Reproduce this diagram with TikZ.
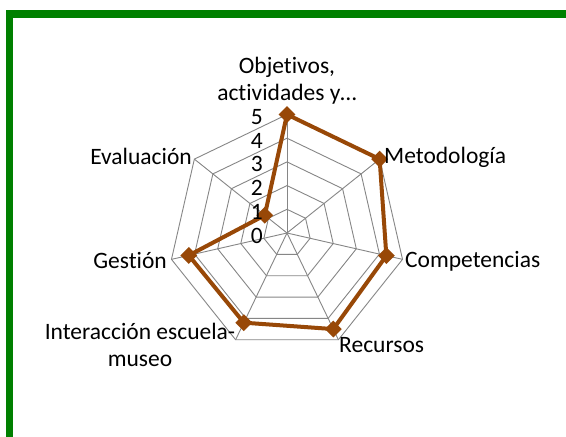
\documentclass[tikz,border=0pt]{standalone}
\usepackage{fontspec}
\setmainfont{Carlito}[Ligatures={NoCommon}]
\usepackage{tikz}
\usetikzlibrary{shapes.geometric}
\definecolor{framegreen}{RGB}{0,128,0}
\definecolor{gridgray}{RGB}{134,134,134}
\definecolor{seriesbrown}{RGB}{152,72,7}

\begin{document}
\begin{tikzpicture}[x=1pt, y=1pt,
  gridline/.style={draw=gridgray, line width=0.9pt},
  serie/.style={draw=seriesbrown, line width=4pt, line join=miter},
  punto/.style={diamond, fill=seriesbrown, inner sep=0pt, minimum size=17pt},
  etiqueta/.style={inner sep=0pt, font=\fontsize{23.5}{27}\selectfont},
  escala/.style={etiqueta, anchor=east}]
\useasboundingbox (0,0) rectangle (566,437);
\fill[white] (0,0) rectangle (566,437);

% Frame
\draw[framegreen, line width=7.5pt] (9.5,-10) -- (9.5,423) -- (590,423);

\begin{scope}[shift={(287,204)}, x=23.7pt, y=23.7pt]
% Rings and spokes
\foreach \r in {1,...,5}
  \draw[gridline] (90:\r) -- (38.571:\r) -- (-12.857:\r) -- (-64.286:\r)
    -- (-115.714:\r) -- (-167.143:\r) -- (141.429:\r) -- cycle;
\foreach \a in {90,38.571,-12.857,-64.286,-115.714,-167.143,141.429}
  \draw[gridline] (0,0) -- (\a:5);

% Series
\coordinate (obj) at (90:5);
\coordinate (met) at (38.571:5);
\coordinate (com) at (-12.857:4.3);
\coordinate (rec) at (-64.286:4.5);
\coordinate (int) at (-115.714:4.2);
\coordinate (ges) at (-167.143:4.25);
\coordinate (eva) at (141.429:1.2);
\draw[serie] (obj) -- (met) -- (com) -- (rec) -- (int) -- (ges) -- (eva) -- cycle;
\foreach \p in {obj,met,com,rec,int,ges,eva}
  \node[punto] (m-\p) at (\p) {};

% Scale
\foreach \v in {0,...,5}
  \node[escala, yshift=-2.5pt] (v\v) at (-1.013,\v) {\v};
\end{scope}

% Axis labels
\node[etiqueta, align=center] (lobj) at (287,356.5) {Objetivos,\\actividades y…};
\node[etiqueta, anchor=west] (lmet) at (384,280) {Metodología};
\node[etiqueta, anchor=west] (lcom) at (405,176) {Competencias};
\node[etiqueta, anchor=west] (lrec) at (339,92) {Recursos};
\node[etiqueta, align=center] (lint) at (140,92) {Interacción escuela-\\museo};
\node[etiqueta, anchor=east] (lges) at (167,176) {Gestión};
\node[etiqueta, anchor=east] (leva) at (192,281) {Evaluación};
\end{tikzpicture}
\end{document}
